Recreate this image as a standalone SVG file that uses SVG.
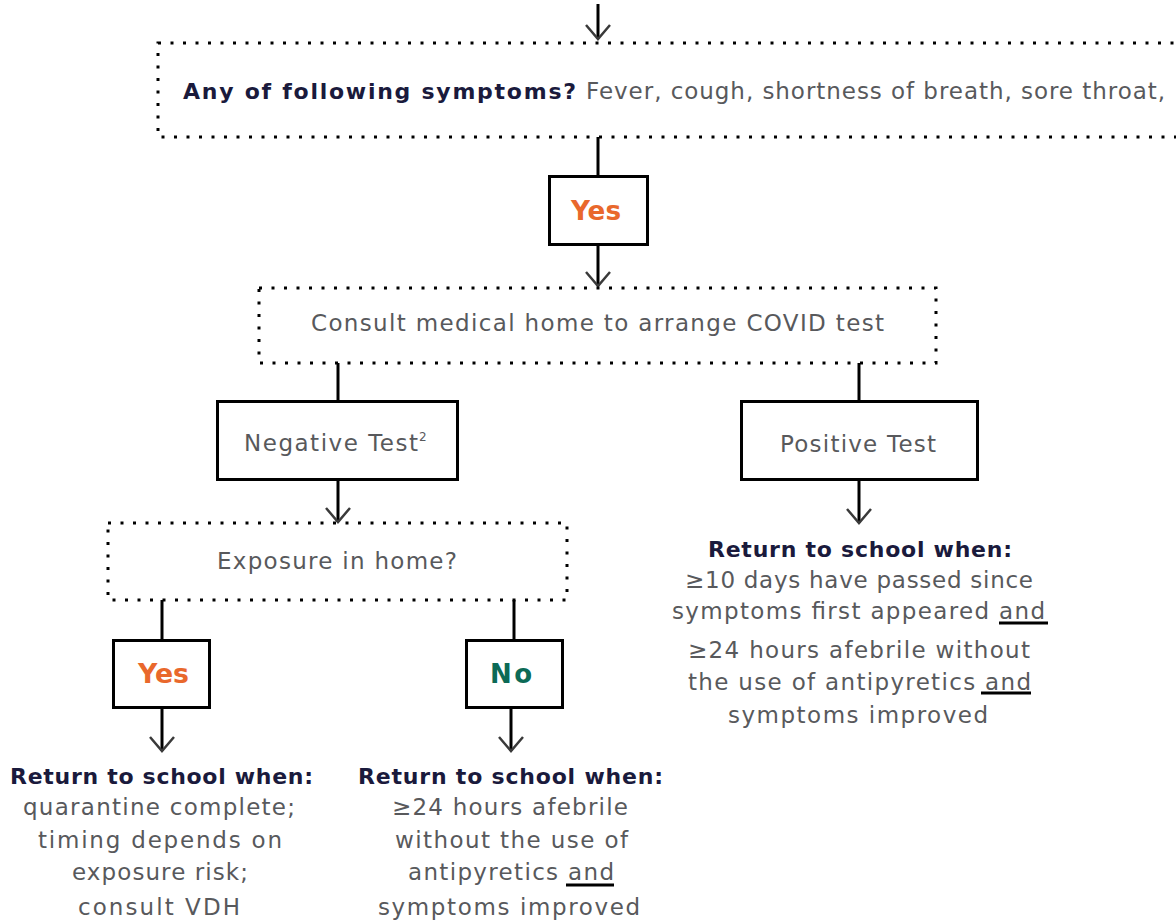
<svg xmlns="http://www.w3.org/2000/svg" width="1176" height="923" viewBox="0 0 1176 923">
<style>
.box{fill:#fff;stroke:#000;stroke-width:3}
.dot{fill:none;stroke:#000;stroke-width:3;stroke-dasharray:3 9.5}
.con{stroke:#000;stroke-width:3;fill:none}
.t{font-family:"DejaVu Sans","Liberation Sans",sans-serif;font-size:23px;fill:#58595c}
.h{font-family:"DejaVu Sans","Liberation Sans",sans-serif;font-size:22px;font-weight:bold;fill:#1a1a3c}
.yes{font-family:"DejaVu Sans","Liberation Sans",sans-serif;font-size:26px;font-weight:bold;fill:#e9682c}
.no{font-family:"DejaVu Sans","Liberation Sans",sans-serif;font-size:26px;font-weight:bold;fill:#0c6a56}
.ul{stroke:#000;stroke-width:3}
</style>
<defs>
<marker id="chev" markerUnits="userSpaceOnUse" markerWidth="40" markerHeight="40" viewBox="-20 -20 40 40" refX="0" refY="0" orient="auto" overflow="visible">
<path d="M-14,-12 L0,0 L-14,12" fill="none" stroke="#3a3a3a" stroke-width="2.5"/>
</marker>
</defs>
<rect width="1176" height="923" fill="#fff"/>
<g id="connectors">
<line class="con" x1="598" y1="4" x2="598" y2="39" marker-end="url(#chev)"/>
<line class="con" x1="598" y1="137" x2="598" y2="176"/>
<line class="con" x1="598" y1="246" x2="598" y2="286" marker-end="url(#chev)"/>
<line class="con" x1="338" y1="363" x2="338" y2="401"/>
<line class="con" x1="859" y1="363" x2="859" y2="401"/>
<line class="con" x1="338" y1="481" x2="338" y2="522" marker-end="url(#chev)"/>
<line class="con" x1="859" y1="481" x2="859" y2="523" marker-end="url(#chev)"/>
<line class="con" x1="162" y1="600" x2="162" y2="639"/>
<line class="con" x1="514" y1="600" x2="514" y2="639"/>
<line class="con" x1="162" y1="709" x2="162" y2="751" marker-end="url(#chev)"/>
<line class="con" x1="511" y1="709" x2="511" y2="751" marker-end="url(#chev)"/>
</g>
<g id="symptoms">
<rect class="dot" x="158" y="43" width="1100" height="94"/>
<text class="h" x="183" y="99" textLength="393" lengthAdjust="spacing">Any of following symptoms?</text>
<text class="t" x="586" y="99" textLength="579" lengthAdjust="spacing">Fever, cough, shortness of breath, sore throat,</text>
</g>
<g id="yes-top">
<rect class="box" x="549.5" y="176.5" width="98" height="68"/>
<text class="yes" x="571" y="220" textLength="50" lengthAdjust="spacingAndGlyphs">Yes</text>
</g>
<g id="consult">
<rect class="dot" x="259" y="288" width="677" height="75"/>
<text class="t" x="311" y="331" textLength="573" lengthAdjust="spacing">Consult medical home to arrange COVID test</text>
</g>
<g id="negative">
<rect class="box" x="217.5" y="401.5" width="240" height="78"/>
<text class="t" x="244" y="451" textLength="174" lengthAdjust="spacing">Negative Test</text>
<text class="t" x="419" y="441" style="font-size:12px">2</text>
</g>
<g id="positive">
<rect class="box" x="741.5" y="401.5" width="236" height="78"/>
<text class="t" x="780" y="452" textLength="156" lengthAdjust="spacing">Positive Test</text>
</g>
<g id="exposure">
<rect class="dot" x="108" y="523" width="459" height="77"/>
<text class="t" x="217" y="569" textLength="240" lengthAdjust="spacing">Exposure in home?</text>
</g>
<g id="yes-exposure">
<rect class="box" x="113.5" y="640.5" width="96" height="67"/>
<text class="yes" x="138" y="683" textLength="51" lengthAdjust="spacingAndGlyphs">Yes</text>
</g>
<g id="no-exposure">
<rect class="box" x="466.5" y="640.5" width="96" height="67"/>
<text class="no" x="490" y="683" textLength="42" lengthAdjust="spacing">No</text>
</g>
<g id="return-quarantine">
<text class="h" x="10" y="784" textLength="303" lengthAdjust="spacing">Return to school when:</text>
<text class="t" x="23" y="815" textLength="272" lengthAdjust="spacing">quarantine complete;</text>
<text class="t" x="38" y="848" textLength="244" lengthAdjust="spacing">timing depends on</text>
<text class="t" x="72" y="880" textLength="176" lengthAdjust="spacing">exposure risk;</text>
<text class="t" x="78" y="915" textLength="162" lengthAdjust="spacing">consult VDH</text>
</g>
<g id="return-no-exposure">
<text class="h" x="358" y="784" textLength="305" lengthAdjust="spacing">Return to school when:</text>
<text class="t" x="392" y="815" textLength="236" lengthAdjust="spacing">≥24 hours afebrile</text>
<text class="t" x="395" y="848" textLength="233" lengthAdjust="spacing">without the use of</text>
<text class="t" x="408" y="880" textLength="206" lengthAdjust="spacing">antipyretics and</text>
<line class="ul" x1="566" y1="885" x2="614" y2="885"/>
<text class="t" x="378" y="915" textLength="262" lengthAdjust="spacing">symptoms improved</text>
</g>
<g id="return-positive">
<text class="h" x="708" y="557" textLength="304" lengthAdjust="spacing">Return to school when:</text>
<text class="t" x="685" y="588" textLength="348" lengthAdjust="spacing">≥10 days have passed since</text>
<text class="t" x="672" y="619" textLength="373" lengthAdjust="spacing">symptoms first appeared and</text>
<line class="ul" x1="999" y1="623" x2="1048" y2="623"/>
<text class="t" x="688" y="658" textLength="342" lengthAdjust="spacing">≥24 hours afebrile without</text>
<text class="t" x="688" y="690" textLength="343" lengthAdjust="spacing">the use of antipyretics and</text>
<line class="ul" x1="981" y1="693" x2="1031" y2="693"/>
<text class="t" x="728" y="723" textLength="260" lengthAdjust="spacing">symptoms improved</text>
</g>
</svg>
